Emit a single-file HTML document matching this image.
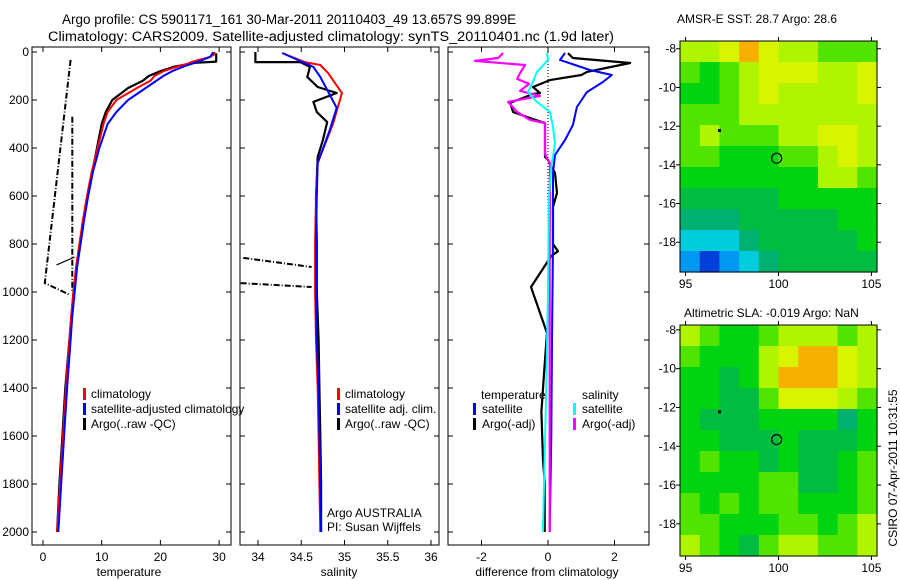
<!DOCTYPE html>
<html><head><meta charset="utf-8"><style>
body{margin:0;background:#fff;}
svg{display:block;font-family:"Liberation Sans",sans-serif;}
</style></head><body>
<svg id="fig" width="900" height="580" xmlns="http://www.w3.org/2000/svg">
<text x="62" y="24" font-size="13.5">Argo profile: CS 5901171_161 30-Mar-2011 20110403_49 13.657S 99.899E</text>
<text x="48" y="41" font-size="13.5" textLength="566" lengthAdjust="spacingAndGlyphs">Climatology: CARS2009. Satellite-adjusted climatology: synTS_20110401.nc (1.9d later)</text>
<text x="677" y="23" font-size="12">AMSR-E SST: 28.7 Argo: 28.6</text>
<text x="684" y="317" font-size="12">Altimetric SLA: -0.019 Argo: NaN</text>
<text transform="translate(897,468) rotate(-90)" text-anchor="middle" font-size="12">CSIRO 07-Apr-2011 10:31:55</text>
</svg>
<script>
// ---- data ----
const depthTicks=[0,200,400,600,800,1000,1200,1400,1600,1800,2000];
const tempTicks=[0,10,20,30];
const salTicks=[34,34.5,35,35.5,36];
const salTickLabels=["34","34.5","35","35.5","36"];
const diffTicks=[-2,0,2];
const lonTicks=[95,100,105];
const lat1Ticks=[-8,-10,-12,-14,-16,-18];
// temperature
const tClimD=[0,10,20,30,40,50,60,80,100,120,150,200,250,300,400,500,600,700,800,900,1000,1100,1200,1400,1600,1800,2000];
const tClimV=[29.2,29.2,28.5,27,25.5,24.5,23,20.5,19,18.3,16,12.5,11,10.3,9.3,8.3,7.5,6.8,6.2,5.6,5.2,4.8,4.5,3.9,3.4,2.9,2.4];
const tSatD=[0,20,40,60,80,100,150,200,250,300,400,500,600,700,800,900,1000,1100,1200,1400,1600,1800,2000];
const tSatV=[29,28.5,26.5,24,22,20.5,17.5,14.5,12.5,11,9.6,8.5,7.7,7,6.4,5.8,5.4,5,4.7,4.1,3.6,3.1,2.6];
const tArgoD=[5,40,45,60,80,100,120,150,200,250,300,400,500,600,700,800,900,1000,1200,1400,1600,1800,2000];
const tArgoV=[29.5,29.5,26,22.5,20,18,17,14.5,11.8,10.7,10,9.2,8.4,7.6,6.9,6.3,5.7,5.2,4.5,3.8,3.3,2.8,2.4];
const tRawAD=[33,963,1012];
const tRawAV=[4.7,0.3,4.6];
const tRawBD=[270,1000];
const tRawBV=[5,5];
const tRawCD=[887,854];
const tRawCV=[2.3,5.4];
// salinity
const sClimD=[4,42,54,88,171,296,462,600,800,1000,1200,1400,1600,1800,2000];
const sClimV=[34.28,34.54,34.72,34.81,34.97,34.87,34.69,34.67,34.66,34.66,34.67,34.69,34.7,34.71,34.72];
const sSatD=[4,62,104,158,233,325,462,600,800,1000,1200,1400,1600,1800,2000];
const sSatV=[34.28,34.64,34.72,34.8,34.91,34.83,34.69,34.68,34.67,34.67,34.68,34.7,34.71,34.72,34.73];
const sArgoD=[0,35,42,42,62,104,146,171,208,250,292,367,437,604,800,1000,1200,1400,1600,1800,2000];
const sArgoV=[33.97,33.97,33.97,34.49,34.6,34.57,34.69,34.91,34.64,34.68,34.8,34.75,34.69,34.67,34.68,34.68,34.7,34.71,34.72,34.73,34.73];
const sRawAD=[858,896];
const sRawAV=[33.83,34.62];
const sRawBD=[963,979];
const sRawBV=[33.8,34.62];
// differences
const dTSatD=[4,33,75,96,125,167,229,304,367,429,504,800,1200,1600,2000];
const dTSatV=[0.51,0.36,1.26,1.92,1.65,1.17,0.87,0.75,0.51,0.21,0.15,0.15,0.12,0.1,0.05];
const dTArgoD=[5,25,46,83,96,117,146,171,175,212,250,275,296,437,450,504,587,646,800,830,850,979,1171,1300,1500,1700,1800,2000];
const dTArgoV=[0.6,0.75,2.47,1.17,1.0,0.06,-0.45,-0.24,-0.45,-1.14,-1.05,-0.54,-0.09,-0.09,0.0,0.21,0.27,0.15,0.15,0.3,0.1,-0.51,-0.03,-0.1,-0.2,-0.15,-0.1,-0.1];
const dSArgoD=[4,25,37,54,88,112,133,162,183,208,250,283,296,425,467,800,1200,1600,2000];
const dSArgoV=[-1.35,-1.5,-2.2,-0.69,-0.84,-0.93,-0.57,-0.84,-0.24,-1.2,-0.93,-0.54,-0.09,-0.09,0.06,0.05,0.05,0.05,0.05];
const dSSatD=[4,33,83,133,167,208,250,312,383,479,600,1000,1400,1800,2000];
const dSSatV=[-0.03,0.0,-0.33,-0.48,-0.6,-0.33,0.06,0.15,0.21,0.1,0.03,0.0,-0.05,-0.12,-0.15];
// maps (rows north->south, cols west->east), value 0..9 colour index
const sstGrid=[
[7,7,8,9,8,7,7,6,6,6],[6,5,6,7,8,8,8,7,7,8],[5,5,6,7,8,7,7,7,7,8],[6,6,6,7,7,7,7,7,7,7],
[6,7,6,6,6,7,7,8,8,7],[6,6,5,5,5,6,6,7,8,7],[5,5,5,5,5,5,5,7,7,6],[4,4,4,4,4,5,5,5,5,5],
[3,3,3,4,4,4,4,4,5,5],[2,2,2,3,4,4,4,4,4,5],[1,0,1,2,3,4,4,4,4,4]];
const slaGrid=[
[7,6,5,5,6,7,7,7,6,7],[6,5,5,5,7,8,9,9,8,7],[5,5,4,5,7,9,9,9,8,7],[5,5,4,4,6,8,8,8,7,6],
[5,4,4,4,5,5,5,5,3,5],[5,5,4,4,4,5,4,4,4,5],[5,6,5,5,4,5,4,4,5,6],[5,5,5,5,6,6,4,4,5,6],
[6,5,6,5,6,6,5,5,5,6],[6,6,5,5,5,6,6,5,6,7],[7,6,5,4,6,7,7,6,6,7]];
const argoLon=99.899, argoLat=-13.657;
const dotLon=96.8, dotLat=-12.2;
const palette=["#0040d8","#0098f0","#00ccdc","#00b070","#00bc40","#00d410","#50e400","#b0f400","#d8f400","#f8b000"];

// ---- helpers ----
const svg=document.getElementById('fig');
const NS='http://www.w3.org/2000/svg';
function el(tag,attrs,parent){const e=document.createElementNS(NS,tag);for(const k in attrs)e.setAttribute(k,attrs[k]);(parent||svg).appendChild(e);return e;}
const yD=d=>52+d*0.24;
const xT=t=>43+t*5.87;
const xS=s=>258+(s-34)*86.5;
const xDf=v=>548+v*33.25;

function frame(x0,x1,name){
  const r=el('rect',{x:x0,y:47,width:x1-x0,height:498,fill:'none',stroke:'#000','stroke-width':1});
  
  
  depthTicks.forEach(d=>{
    const t1=el('line',{x1:x0,x2:x0+5,y1:yD(d),y2:yD(d),stroke:'#000'});
    
    
    const t2=el('line',{x1:x1-5,x2:x1,y1:yD(d),y2:yD(d),stroke:'#000'});
    
    
  });
}
function xticks(vals,labels,fx,name){
  vals.forEach((v,i)=>{
    const t=el('line',{x1:fx(v),x2:fx(v),y1:545,y2:540,stroke:'#000'});
    
    
    const t2=el('line',{x1:fx(v),x2:fx(v),y1:47,y2:52,stroke:'#000'});
    
    
    const l=el('text',{x:fx(v),y:561,'text-anchor':'middle','font-size':12});
    l.textContent=labels[i];
    
    
  });
}
function line(D,V,fx,color,w,name,dash){
  const pts=D.map((d,i)=>fx(V[i]).toFixed(1)+','+yD(d).toFixed(1)).join(' ');
  const a={points:pts,fill:'none',stroke:color,'stroke-width':w,'stroke-linejoin':'round'};
  if(dash)a['stroke-dasharray']=dash;
  const p=el('polyline',a);
  
  
}
function txt(x,y,s,name,anchor){
  const t=el('text',{x:x,y:y,'font-size':12,'text-anchor':anchor||'start'});
  t.textContent=s;
  
  
}
function legendMark(x,y,color){
  const m=el('rect',{x:x,y:y-10,width:3,height:12,fill:color});
  
  
}

// ---- panel 1: temperature ----
frame(32,231,'temperature-panel-frame');
depthTicks.forEach(d=>{
  const l=el('text',{x:29,y:yD(d)+4,'text-anchor':'end','font-size':12});
  l.textContent=String(d);
  
  
});
xticks(tempTicks,tempTicks.map(String),xT,'temperature');
txt(129,576,'temperature','temperature-axis-title','middle');
line(tRawAD,tRawAV,xT,'#000',2,'temp-raw-qc-a','6,2,1,2');
line(tRawBD,tRawBV,xT,'#000',2,'temp-raw-qc-b','6,2,1,2');
line(tRawCD,tRawCV,xT,'#000',1.2,'temp-raw-qc-c');
line(tArgoD,tArgoV,xT,'#000',2.2,'temp-argo-line');
line(tClimD,tClimV,xT,'#f00',2,'temp-climatology-line');
line(tSatD,tSatV,xT,'#00f',2,'temp-satellite-line');
legendMark(83,398,'#f00');txt(91,398,'climatology','legend-climatology');
legendMark(83,413,'#00f');txt(91,413,'satellite-adjusted climatology','legend-satellite-adjusted');
legendMark(83,428,'#000');txt(91,428,'Argo(..raw -QC)','legend-argo');

// ---- panel 2: salinity ----
frame(240,439,'salinity-panel-frame');
xticks(salTicks,salTickLabels,xS,'salinity');
txt(339,576,'salinity','salinity-axis-title','middle');
line(sRawAD,sRawAV,xS,'#000',2,'sal-raw-qc-a','6,2,1,2');
line(sRawBD,sRawBV,xS,'#000',2,'sal-raw-qc-b','6,2,1,2');
line(sArgoD,sArgoV,xS,'#000',2.2,'sal-argo-line');
line(sClimD,sClimV,xS,'#f00',2,'sal-climatology-line');
line(sSatD,sSatV,xS,'#00f',2,'sal-satellite-line');
legendMark(337,398,'#f00');txt(345,398,'climatology','legend-sal-climatology');
legendMark(337,413,'#00f');txt(345,413,'satellite adj. clim.','legend-sal-satellite');
legendMark(337,428,'#000');txt(345,428,'Argo(..raw -QC)','legend-sal-argo');
txt(327,517,'Argo AUSTRALIA','argo-australia-label');
txt(327,531,'PI: Susan Wijffels','pi-label');

// ---- panel 3: differences ----
frame(448,649,'difference-panel-frame');
xticks(diffTicks,diffTicks.map(String),xDf,'difference');
txt(547,576,'difference from climatology','difference-axis-title','middle');
const z=el('line',{x1:xDf(0),x2:xDf(0),y1:yD(0),y2:yD(1150),stroke:'#000','stroke-dasharray':'1,2'});


line(dTArgoD,dTArgoV,xDf,'#000',2.2,'diff-temp-argo-line');
line(dTSatD,dTSatV,xDf,'#00f',2,'diff-temp-satellite-line');
line(dSArgoD,dSArgoV,xDf,'#f0f',2.2,'diff-sal-argo-line');
line(dSSatD,dSSatV,xDf,'#0ff',2,'diff-sal-satellite-line');
txt(481,399,'temperature','legend-temperature-header');
legendMark(473,413,'#00f');txt(482,413,'satellite','legend-temp-satellite');
legendMark(473,428,'#000');txt(482,428,'Argo(-adj)','legend-temp-argo');
txt(582,399,'salinity','legend-salinity-header');
legendMark(573,413,'#0ff');txt(582,413,'satellite','legend-sal-satellite2');
legendMark(573,428,'#f0f');txt(582,428,'Argo(-adj)','legend-sal-argo2');

// ---- maps ----
function drawMap(grid,top,bottom,latTop,latPerPx,name){
  const x0=680,x1=877,lon0=94.7,lon1=105.3;
  const fxL=lon=>x0+(lon-lon0)/(lon1-lon0)*(x1-x0);
  const fyL=lat=>top+(latTop-lat)/latPerPx;
  const rows=grid.length,cols=grid[0].length;
  const cw=(x1-x0)/cols,ch=(bottom-top)/rows;
  grid.forEach((row,r)=>row.forEach((v,c)=>{
    const cell=el('rect',{x:x0+c*cw,y:top+r*ch,width:cw+0.6,height:ch+0.6,fill:palette[v]});
    
    
  }));
  const f=el('rect',{x:x0,y:top,width:x1-x0,height:bottom-top,fill:'none',stroke:'#000'});
  
  
  lonTicks.forEach(l=>{
    const t=el('line',{x1:fxL(l),x2:fxL(l),y1:bottom,y2:bottom+4,stroke:'#000'});
    
    
    const t2=el('line',{x1:fxL(l),x2:fxL(l),y1:top,y2:top-4,stroke:'#000'});
    
    
    const lb=el('text',{x:fxL(l),y:bottom+16,'text-anchor':'middle','font-size':12});
    lb.textContent=String(l);
    
    
  });
  lat1Ticks.forEach(l=>{
    const t=el('line',{x1:x0-4,x2:x0,y1:fyL(l),y2:fyL(l),stroke:'#000'});
    
    
    const t2=el('line',{x1:x1,x2:x1+4,y1:fyL(l),y2:fyL(l),stroke:'#000'});
    
    
    const lb=el('text',{x:x0-4,y:fyL(l)+4,'text-anchor':'end','font-size':12});
    lb.textContent=String(l);
    
    
  });
  const c=el('circle',{cx:fxL(argoLon),cy:fyL(argoLat),r:5,fill:'none',stroke:'#000','stroke-width':1.2});
  
  
  const d=el('rect',{x:fxL(dotLon)-1,y:fyL(dotLat)-1,width:3,height:3,fill:'#000'});
  
  
}
drawMap(sstGrid,41,272,-7.6,1/19.35,'sst-map');
drawMap(slaGrid,325,556,-7.75,1/19.4,'sla-map');
</script>
</body></html>
